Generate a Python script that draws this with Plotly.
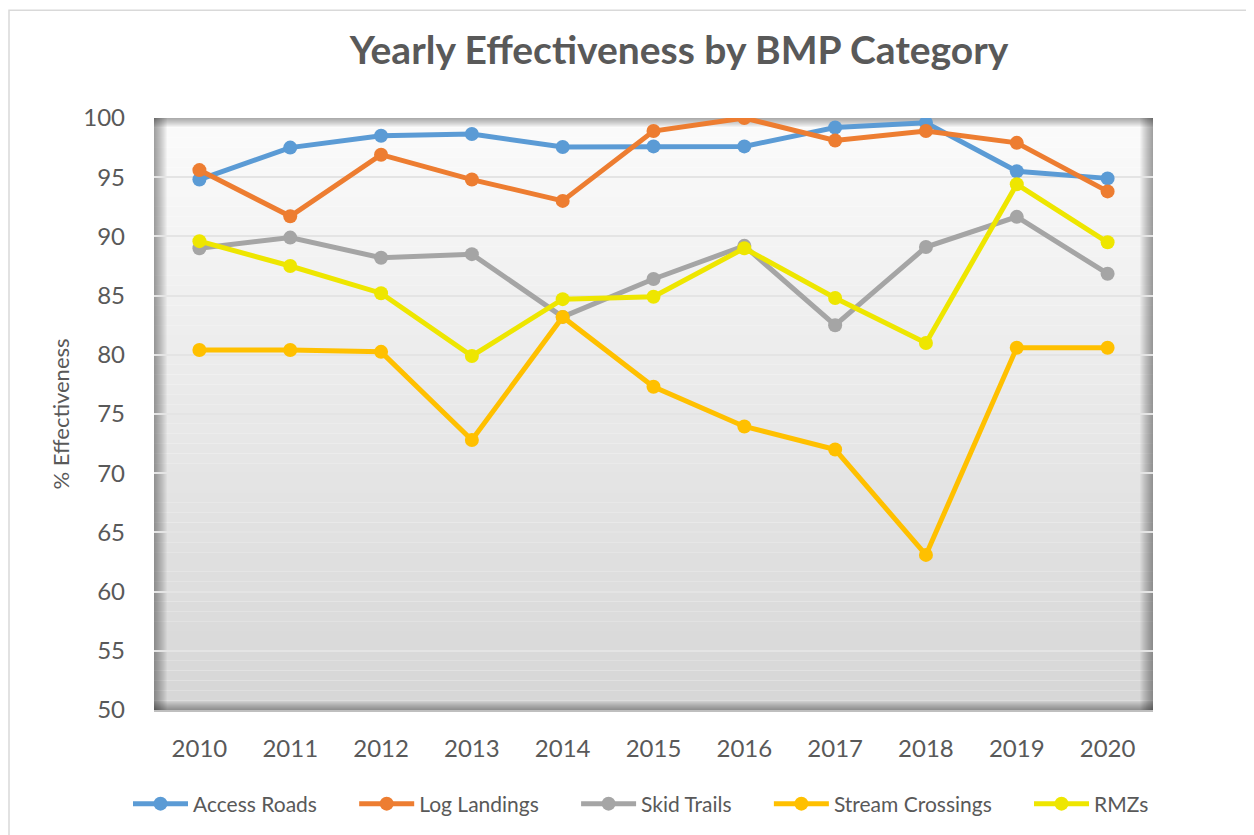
import plotly.graph_objects as go

years = ["2010", "2011", "2012", "2013", "2014", "2015", "2016", "2017", "2018", "2019", "2020"]
access_roads = [94.8, 97.5, 98.5, 98.65, 97.55, 97.6, 97.6, 99.2, 99.6, 95.5, 94.9]
log_landings = [95.6, 91.7, 96.9, 94.8, 93.0, 98.9, 100.0, 98.1, 98.9, 97.9, 93.8]
skid_trails = [89.0, 89.9, 88.2, 88.5, 83.2, 86.4, 89.2, 82.5, 89.1, 91.65, 86.85]
stream_crossings = [80.4, 80.4, 80.25, 72.8, 83.2, 77.3, 73.95, 72.0, 63.1, 80.6, 80.6]
rmzs = [89.6, 87.5, 85.2, 79.9, 84.7, 84.9, 89.0, 84.8, 81.0, 94.4, 89.5]

series = [
    ("Access Roads", access_roads, "#5B9BD5"),
    ("Log Landings", log_landings, "#ED7D31"),
    ("Skid Trails", skid_trails, "#A5A5A5"),
    ("Stream Crossings", stream_crossings, "#FFC000"),
    ("RMZs", rmzs, "#EEE600"),
]

fig = go.Figure()
for name, vals, col in series:
    fig.add_trace(go.Scatter(
        x=years, y=vals, name=name + "      ", mode="lines+markers",
        line=dict(color=col, width=5),
        marker=dict(color=col, size=14),
    ))

W, H = 1246, 827
L, T = 146, 110
pw, ph = 999.0, 593.0
R = W - L - pw
B = H - T - ph

shapes = []
# gradient background of plot area
n = 60
top_c = (251, 251, 251)
bot_c = (214, 214, 214)
for i in range(n):
    t = i / (n - 1)
    c = tuple(int(round(top_c[k] + (bot_c[k] - top_c[k]) * t)) for k in range(3))
    y1 = 1 - i / n
    y0 = 1 - (i + 1) / n
    shapes.append(dict(type="rect", xref="paper", yref="paper", x0=0, x1=1, y0=y0, y1=y1,
                       fillcolor="rgb(%d,%d,%d)" % c, line=dict(width=0), layer="below"))
# edge shadows
for k in range(1, 14):
    a = 0.033
    shapes.append(dict(type="rect", xref="paper", yref="paper", x0=0, x1=k / pw, y0=0, y1=1,
                       fillcolor="rgba(0,0,0,%g)" % a, line=dict(width=0), layer="below"))
    shapes.append(dict(type="rect", xref="paper", yref="paper", x0=1 - k / pw, x1=1, y0=0, y1=1,
                       fillcolor="rgba(0,0,0,%g)" % a, line=dict(width=0), layer="below"))
for k in range(1, 10):
    shapes.append(dict(type="rect", xref="paper", yref="paper", x0=0, x1=1, y0=1 - k / ph, y1=1,
                       fillcolor="rgba(0,0,0,0.04)", line=dict(width=0), layer="below"))
    shapes.append(dict(type="rect", xref="paper", yref="paper", x0=0, x1=1, y0=0, y1=k / ph,
                       fillcolor="rgba(0,0,0,0.04)", line=dict(width=0), layer="below"))
# chart outer border
shapes.append(dict(type="rect", xref="paper", yref="paper",
                   x0=-(L - 1) / pw, x1=1 + (R + 20) / pw, y0=-(B + 20) / ph, y1=1 + (T - 2) / ph,
                   line=dict(color="#D9D9D9", width=1.5), fillcolor="rgba(0,0,0,0)", layer="below"))

fig.update_layout(
    width=W, height=H,
    paper_bgcolor="white", plot_bgcolor="rgba(0,0,0,0)",
    margin=dict(l=L, r=R, t=T, b=B),
    title=dict(text="<b>Yearly Effectiveness by BMP Category</b>", x=(679 - 8) / W, xanchor="center",
               y=1 - (50 - 8) / H, yanchor="middle",
               font=dict(family="Lato, Open Sans, sans-serif", size=39, color="#595959")),
    font=dict(family="Lato, Open Sans, sans-serif", color="#595959"),
    shapes=shapes,
    legend=dict(orientation="h", x=(128 - 8 - L) / pw, xanchor="left", y=-(804 - 8 - T - ph) / ph, yanchor="middle",
                font=dict(size=21, color="#595959"), itemwidth=55, tracegroupgap=0),
    showlegend=True,
)
fig.update_xaxes(
    type="category", range=[-0.5, 10.5], showgrid=False,
    showline=True, linecolor="#BFBFBF", linewidth=1.5,
    tickfont=dict(size=24, color="#595959"), ticks="", ticklabelstandoff=16,
)
fig.update_yaxes(
    range=[50, 100], dtick=5, tick0=50, showgrid=True, gridcolor="#E4E4E4", gridwidth=1.5,
    zeroline=False, showline=False,
    tickfont=dict(size=24, color="#595959"), ticks="", ticklabelstandoff=28,
    title=dict(text="% Effectiveness", font=dict(size=22, color="#595959"), standoff=7),
)

fig.write_html("out.html")
